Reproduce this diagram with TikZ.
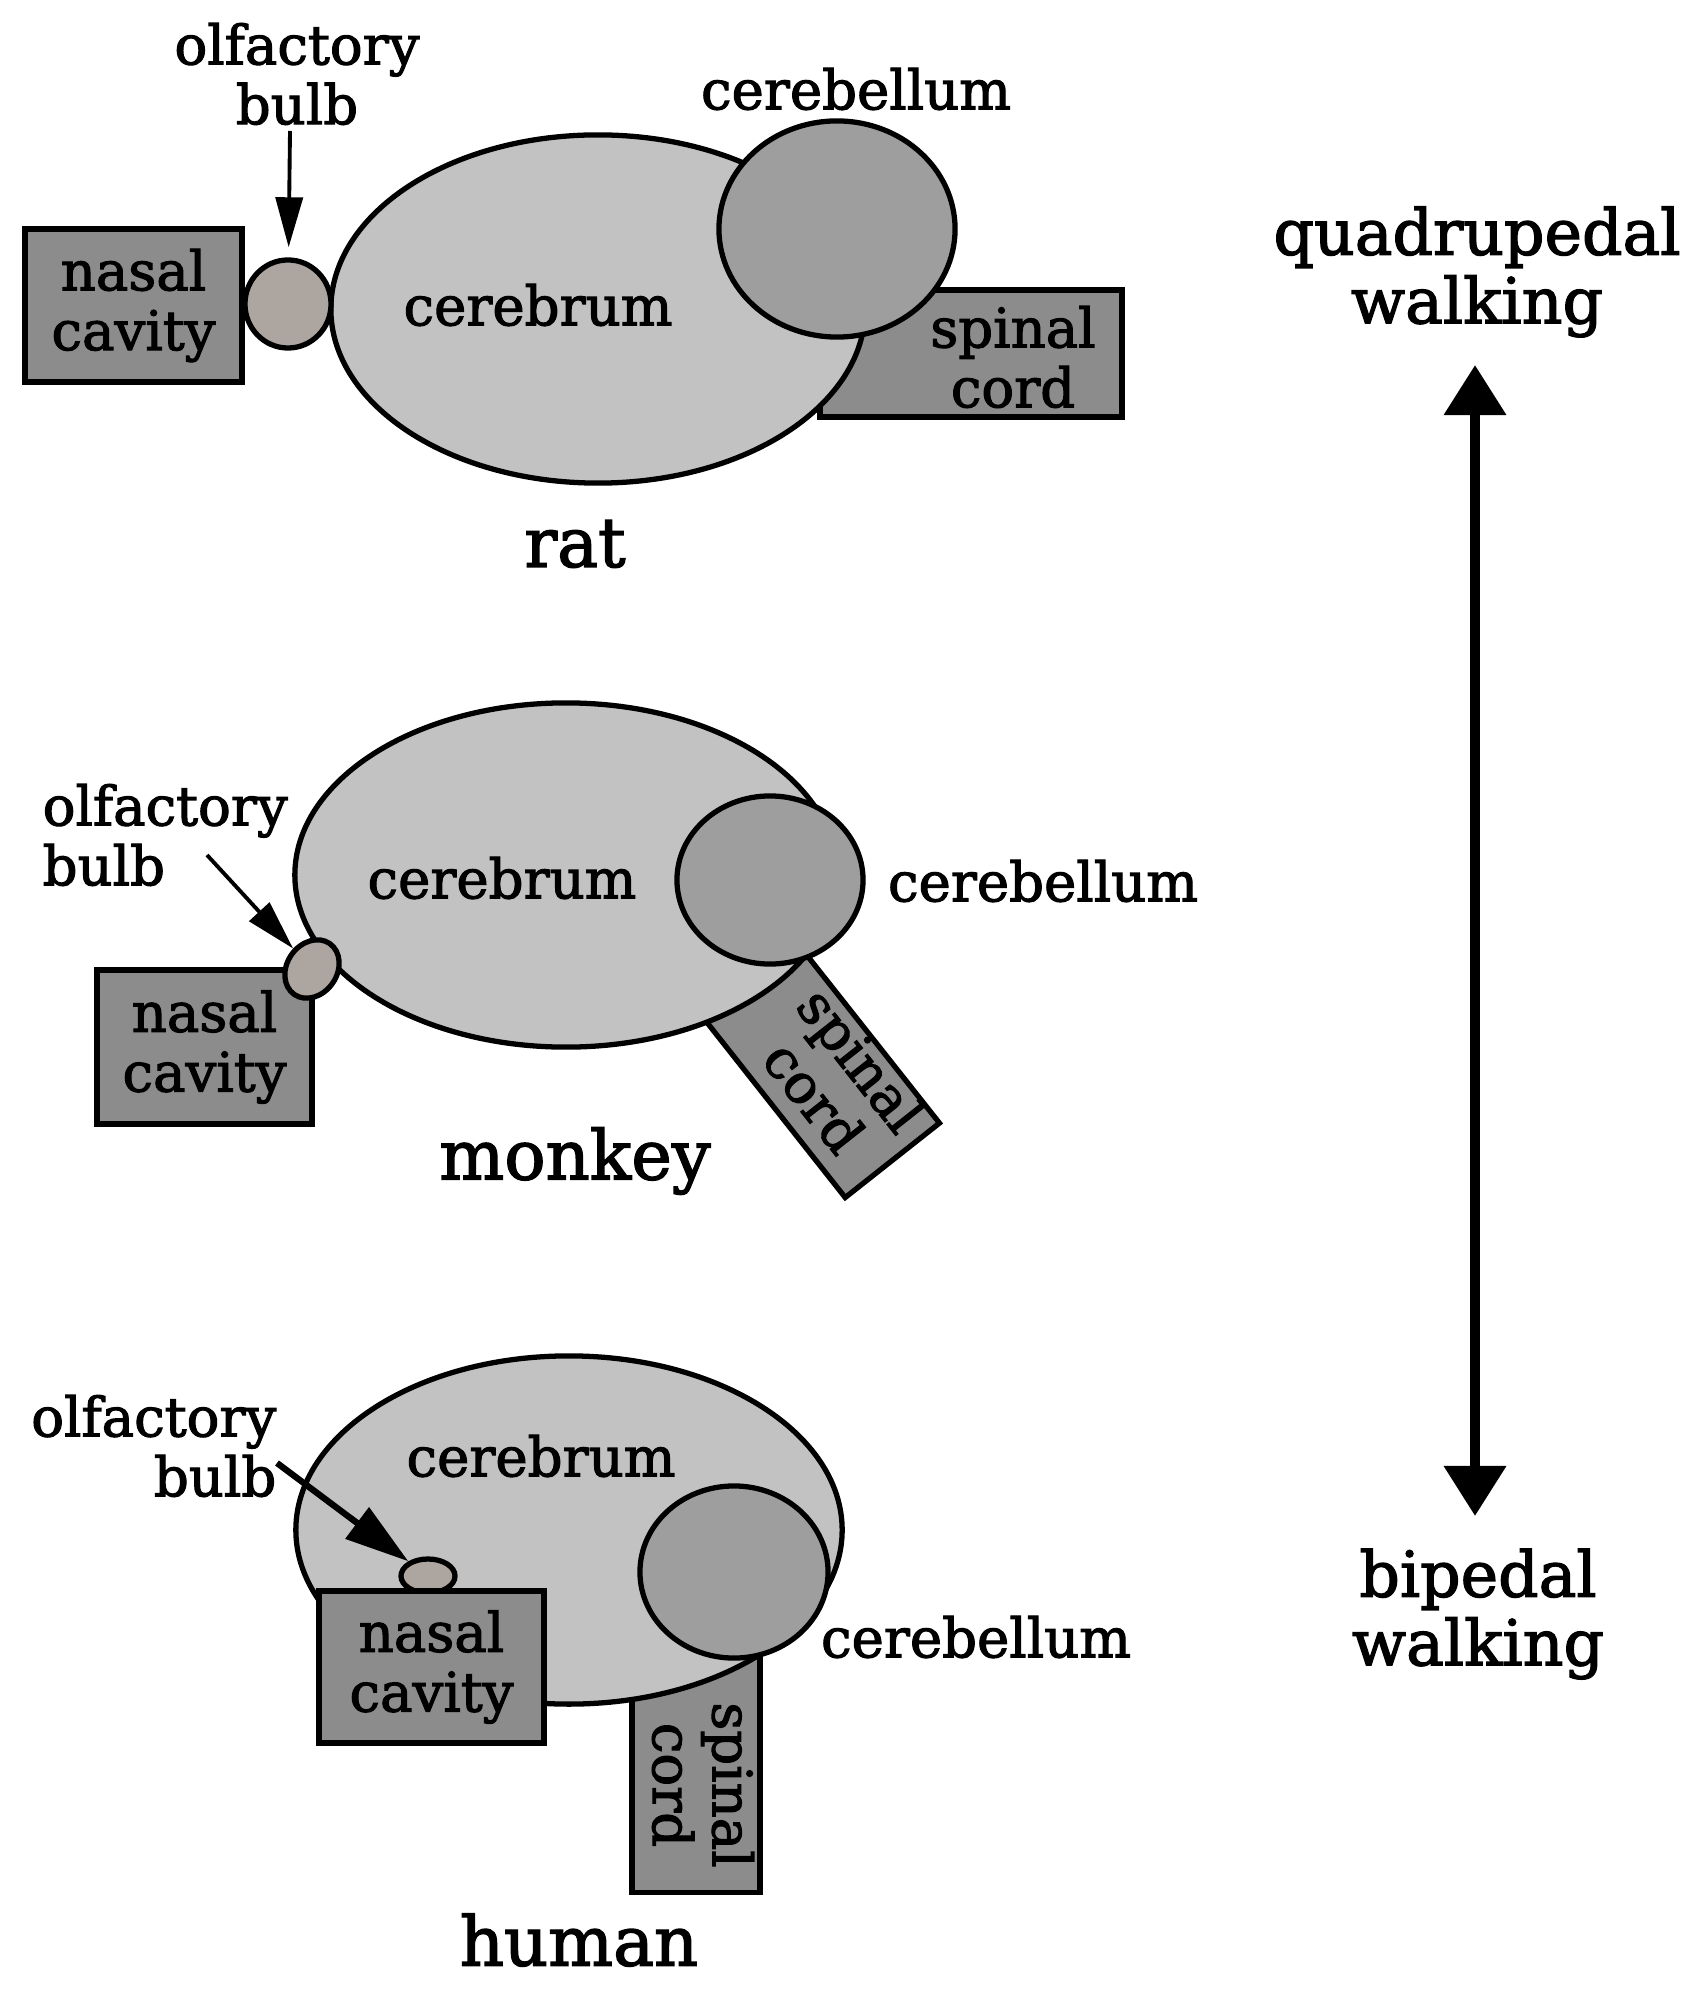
\documentclass[tikz,border=0pt]{standalone}
\usepackage{fontspec}
\setmainfont[FakeBold=2,AutoFakeBold=2]{DejaVu Serif}
\usetikzlibrary{shapes.geometric,arrows.meta}
\definecolor{cbrmc}{RGB}{194,194,194}
\definecolor{cbllc}{RGB}{158,158,158}
\definecolor{boxc}{RGB}{140,140,140}
\definecolor{blbc}{RGB}{173,165,159}
\newcommand\smallfnt{\fontsize{15.5}{17}\selectfont\bfseries}
\newcommand\bigfnt{\fontsize{19.5}{22}\selectfont\bfseries}
\newcommand\sidefnt{\fontsize{18}{19.5}\selectfont\bfseries}
\begin{document}
\begin{tikzpicture}[x=0.01cm,y=-0.01cm,
  outl/.style={draw=black,line width=1.5pt},
  cbrm/.style={outl,ellipse,fill=cbrmc,inner sep=0pt},
  cbll/.style={outl,ellipse,fill=cbllc,inner sep=0pt},
  boxn/.style={outl,rectangle,fill=boxc,inner sep=0pt,align=center,font=\smallfnt},
  blb/.style={outl,ellipse,fill=blbc,inner sep=0pt},
  lbl/.style={font=\smallfnt,inner sep=0pt,align=center},
  animal/.style={font=\bigfnt,inner sep=0pt},
  side/.style={font=\sidefnt,inner sep=0pt,align=center},
  ptr/.style={line width=1.1pt,-{Triangle[length=0.5cm,width=0.27cm]}},
  ptrb/.style={line width=1.8pt,-{Triangle[length=0.64cm,width=0.38cm]}},
  bigarrow/.style={line width=2.9pt,{Triangle[length=0.5cm,width=0.6cm]}-{Triangle[length=0.5cm,width=0.6cm]}}
]
\useasboundingbox (0,0) rectangle (1697,1995);
\fill[white] (0,0) rectangle (1697,1995);

% ---------------- rat ----------------
\node[boxn,minimum width=3.02cm,minimum height=1.27cm] (ratsc) at (971,353.5) {};
\node[cbrm,minimum width=5.34cm,minimum height=3.48cm] (ratcb) at (598,309) {};
\node[cbll,minimum width=2.36cm,minimum height=2.16cm] (ratcl) at (837,229) {};
\node[boxn,minimum width=2.17cm,minimum height=1.53cm] (ratnc) at (133.5,305.5) {nasal\\cavity};
\node[blb,minimum width=0.86cm,minimum height=0.88cm] (ratbulb) at (288,304) {};
\node[lbl] (ratscl) at (1013,357) {spinal\\cord};
\node[lbl] (ratcbl) at (538,305) {cerebrum};
\node[lbl] (ratcll) at (856,89) {cerebellum};
\node[lbl] (ratob) at (297,74) {olfactory\\bulb};
\coordinate (ratarr) at (290,131);
\draw[ptr,shorten >=0.1cm] (ratarr) -- (ratbulb);
\node[animal] (rat) at (575,544) {rat};

% ---------------- monkey ----------------
\node[boxn,minimum width=2.3cm,minimum height=1.2cm,rotate=-51.7] (mksc) at (821,1070) {};
\node[cbrm,minimum width=5.42cm,minimum height=3.44cm] (mkcb) at (566,875) {};
\node[cbll,minimum width=1.86cm,minimum height=1.68cm] (mkcl) at (770,880) {};
\node[boxn,minimum width=2.15cm,minimum height=1.54cm] (mknc) at (204.5,1047) {nasal\\cavity};
\node[blb,minimum width=0.62cm,minimum height=0.5cm,rotate=55] (mkbulb) at (312,969) {};
\node[lbl,rotate=-51.7] (mkscl) at (838,1078) {spinal\\cord};
\node[lbl] (mkcbl) at (502,878) {cerebrum};
\node[lbl] (mkcll) at (1043,881) {cerebellum};
\node[lbl,align=left,anchor=west] (mkob) at (42,835) {olfactory\\bulb};
\coordinate (mkarr) at (207,855);
\draw[ptr] (mkarr) -- (mkbulb);
\node[animal] (monkey) at (575,1161) {monkey};

% ---------------- human ----------------
\node[boxn,minimum width=1.28cm,minimum height=3.33cm] (husc) at (696,1726) {};
\node[cbrm,minimum width=5.46cm,minimum height=3.48cm] (hucb) at (569,1530) {};
\node[cbll,minimum width=1.88cm,minimum height=1.72cm] (hucl) at (734,1572) {};
\node[blb,minimum width=0.54cm,minimum height=0.34cm] (hubulb) at (428,1576) {};
\node[boxn,minimum width=2.25cm,minimum height=1.52cm] (hunc) at (431.5,1667) {nasal\\cavity};
\node[lbl,rotate=-90] (huscl) at (703,1785) {spinal\\cord};
\node[lbl] (hucbl) at (541,1456) {cerebrum};
\node[lbl] (hucll) at (976,1637) {cerebellum};
\node[lbl,align=right,anchor=east] (huob) at (277,1446) {olfactory\\bulb};
\coordinate (huarr) at (277,1463);
\draw[ptrb] (huarr) -- (hubulb);
\node[animal] (human) at (579,1940) {human};

% ---------------- side arrow ----------------
\node[side] (quad) at (1477,272) {quadrupedal\\walking};
\node[side] (biped) at (1478,1614) {bipedal\\walking};
\coordinate (qtop) at (1475,365);
\coordinate (qbot) at (1475,1516);
\draw[bigarrow] (qtop) -- (qbot);
\end{tikzpicture}
\end{document}
